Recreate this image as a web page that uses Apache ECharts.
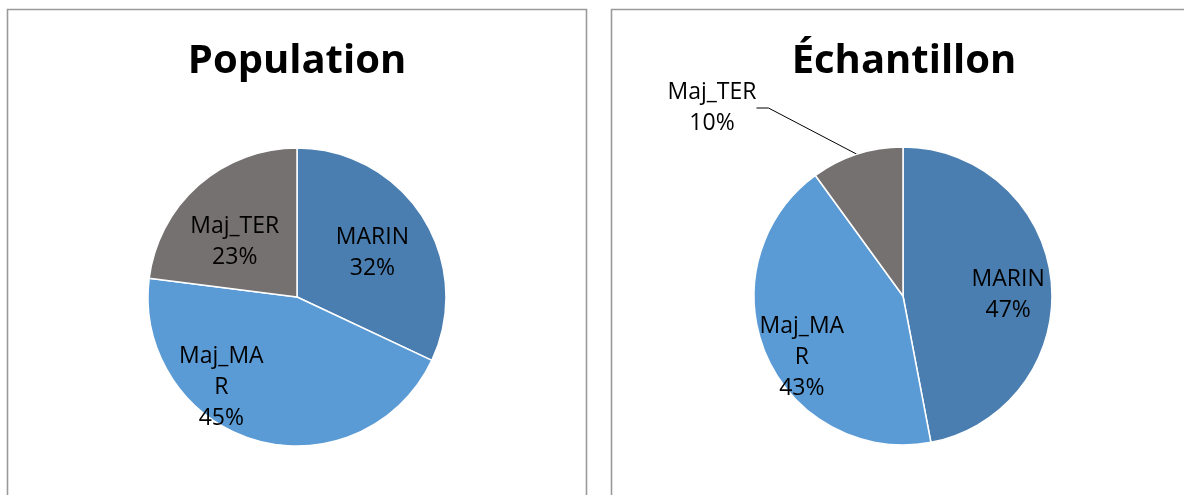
<!DOCTYPE html>
<html>
<head>
<meta charset="utf-8">
<script src="https://cdn.jsdelivr.net/npm/echarts@6/dist/echarts.min.js"></script>
<style>
  html, body { margin: 0; padding: 0; background: #ffffff; }
  #chart { width: 1184px; height: 495px; }
</style>
</head>
<body>
<div id="chart"></div>
<script>
// Category names shared by both pies
const categories = ['MARIN', 'Maj_MAR', 'Maj_TER'];
// Share of each category (percent)
const populationValues = [32, 45, 23];
const echantillonValues = [47, 43, 10];
// Panel titles
const titles = ['Population', 'Échantillon'];

const colors = ['#4a7eb0', '#5b9bd5', '#767171'];
const labelFont = '"Open Sans", "Noto Sans", sans-serif';

function pct(p) { return p.name + '\n' + p.value + '%'; }

// Label placement tweaks (pixel nudges from the default inside position)
const popOffsets = [[10, -3], [-54, 16], [-11, 3]];
const echOffsets = [[28, 6], [-30, 31], [0, 0]];

function buildData(values, offsets, outsideIndex) {
  return categories.map(function (name, i) {
    const item = {
      name: name,
      value: values[i],
      itemStyle: { color: colors[i] },
      label: { offset: offsets[i] }
    };
    if (name === 'Maj_MAR') {
      item.label.width = 90;
      item.label.overflow = 'breakAll';
    }
    if (i === outsideIndex) {
      item.label = { position: 'outside', align: 'center' };
      item.labelLine = { show: true };
    }
    return item;
  });
}

const chart = echarts.init(document.getElementById('chart'), null, { renderer: 'canvas' });

const seriesBase = {
  type: 'pie',
  radius: 149,
  startAngle: 90,
  clockwise: true,
  avoidLabelOverlap: false,
  animation: false,
  silent: true,
  itemStyle: { borderColor: '#ffffff', borderWidth: 1.5 },
  label: {
    show: true,
    position: 'inside',
    formatter: pct,
    color: '#000000',
    fontFamily: labelFont,
    fontSize: 23,
    lineHeight: 31,
    align: 'center'
  },
  labelLine: {
    show: false,
    length2: 12,
    lineStyle: { color: '#000000', width: 1 }
  }
};

chart.setOption({
  backgroundColor: '#ffffff',
  graphic: [
    {
      type: 'rect', silent: true,
      shape: { x: 7.5, y: 9.5, width: 579, height: 520 },
      style: { fill: 'none', stroke: '#9a9a9a', lineWidth: 1.6 }
    },
    {
      type: 'rect', silent: true,
      shape: { x: 611.5, y: 9.5, width: 620, height: 520 },
      style: { fill: 'none', stroke: '#9a9a9a', lineWidth: 1.6 }
    },
    {
      type: 'text', silent: true, x: 297, y: 62,
      style: {
        text: titles[0], fill: '#000000', textAlign: 'center', textVerticalAlign: 'middle',
        font: 'bold 40px "Open Sans", "Noto Sans", sans-serif'
      }
    },
    {
      type: 'text', silent: true, x: 904, y: 62,
      style: {
        text: titles[1], fill: '#000000', textAlign: 'center', textVerticalAlign: 'middle',
        font: 'bold 40px "Open Sans", "Noto Sans", sans-serif'
      }
    }
  ],
  series: [
    Object.assign({}, seriesBase, {
      name: titles[0],
      center: [297, 297],
      data: buildData(populationValues, popOffsets, -1)
    }),
    Object.assign({}, seriesBase, {
      name: titles[1],
      center: [903, 296],
      data: buildData(echantillonValues, echOffsets, 2),
      labelLayout: function (params) {
        if (params.dataIndex === 2) {
          return { x: 712, y: 108, align: 'center', verticalAlign: 'middle' };
        }
      }
    })
  ]
});
</script>
</body>
</html>
